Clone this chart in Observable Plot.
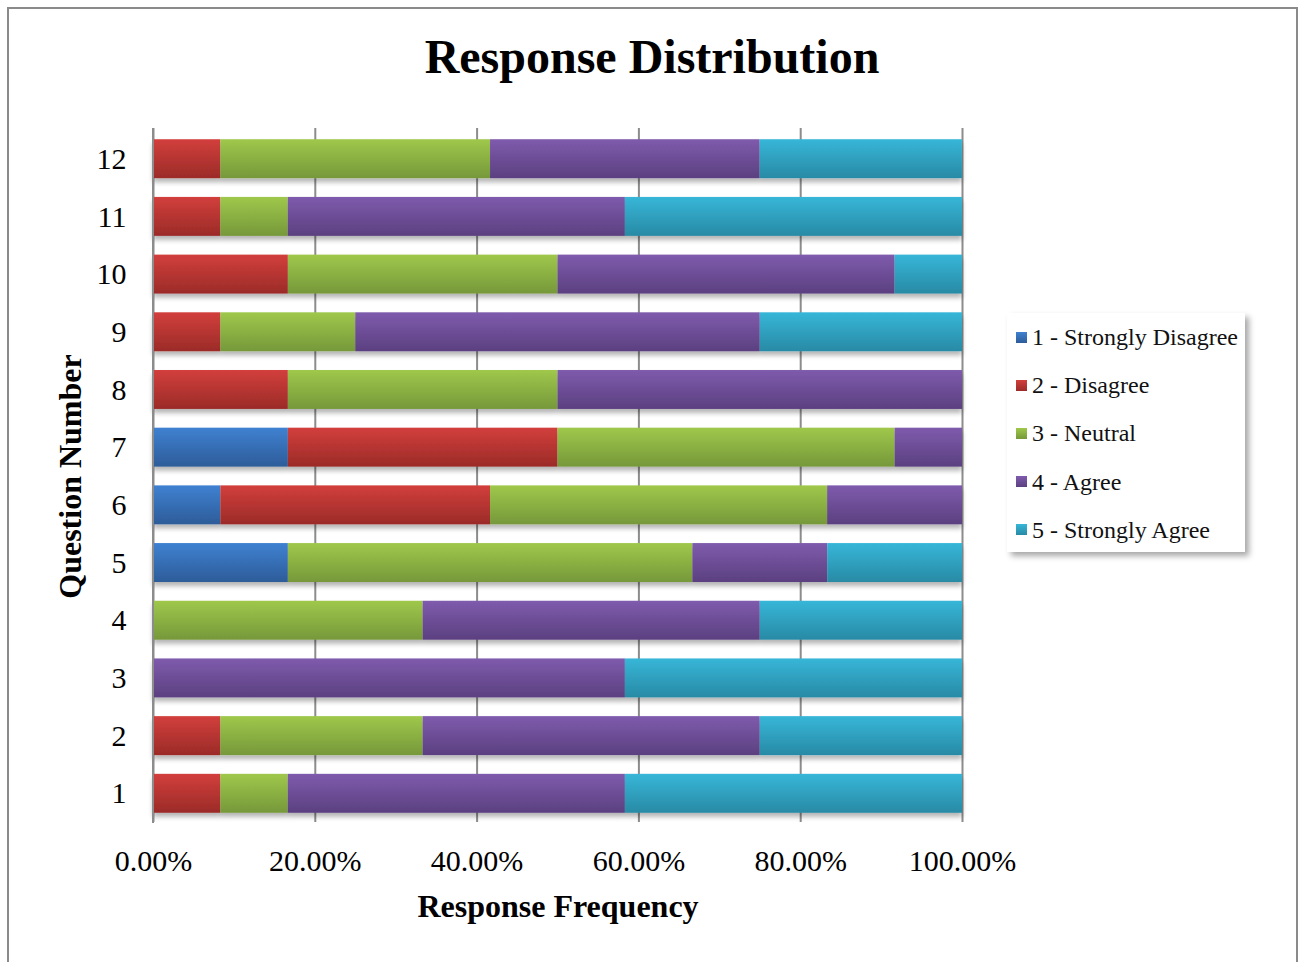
<!DOCTYPE html>
<html>
<head>
<meta charset="utf-8">
<script src="https://cdn.jsdelivr.net/npm/d3@7"></script>
<script src="https://cdn.jsdelivr.net/npm/@observablehq/plot@0.6"></script>
<style>
  html, body { margin: 0; padding: 0; background: #fff; overflow: hidden; }
  #wrap { position: relative; width: 1300px; height: 962px; font-family: "Liberation Serif", "Times New Roman", serif; }
  #frame { position: absolute; left: 7px; top: 7px; width: 1291px; height: 980px; border: 2px solid #8a8a8a; box-sizing: border-box; }
  #title { position: absolute; left: 0; width: 1304px; top: 29px; line-height: 56px; text-align: center; font-size: 48px; font-weight: bold; color: #000; }
  #chart { position: absolute; left: 0; top: 0; }
  #legend { position: absolute; left: 1007px; top: 313px; width: 238px; height: 239px; background: #fff;
            box-shadow: 4px 4px 6px rgba(0,0,0,0.35); box-sizing: border-box; padding-top: 0px; }
  .item { height: 48.2px; display: flex; align-items: center; font-size: 24px; line-height: 26px; color: #111; white-space: nowrap; }
  .sw { width: 11px; height: 11px; margin-left: 9px; margin-right: 5px; flex: none; }
</style>
</head>
<body>
<div id="wrap">
  <div id="frame"></div>
  <div id="chart"></div>
  <div id="title">Response Distribution</div>
  <div id="legend"></div>
</div>
<script>
// ---- data (percent of responses) ----
const questions = [1, 2, 3, 4, 5, 6, 7, 8, 9, 10, 11, 12];
const categories = ["1 - Strongly Disagree", "2 - Disagree", "3 - Neutral", "4 - Agree", "5 - Strongly Agree"];
const stronglyDisagree = [0, 0, 0, 0, 16.67, 8.33, 16.67, 0, 0, 0, 0, 0];
const disagree         = [8.33, 8.33, 0, 0, 0, 33.33, 33.33, 16.67, 8.33, 16.67, 8.33, 8.33];
const neutral          = [8.33, 25, 0, 33.33, 50, 41.67, 41.67, 33.33, 16.67, 33.33, 8.33, 33.33];
const agree            = [41.67, 41.67, 58.33, 41.67, 16.67, 16.67, 8.33, 50, 50, 41.67, 41.67, 33.33];
const stronglyAgree    = [41.67, 25, 41.67, 25, 16.67, 0, 0, 0, 25, 8.33, 41.67, 25];
const xTicks = [0, 20, 40, 60, 80, 100];

const seriesValues = [stronglyDisagree, disagree, neutral, agree, stronglyAgree];
const gradTop    = ["#3f81d1", "#d23f3c", "#9fc84b", "#7f5bad", "#37b6d8"];
const gradBottom = ["#2d5c99", "#9b2b28", "#76983a", "#5b4080", "#288aa5"];

const rows = [];
questions.forEach((q, i) => {
  categories.forEach((c, k) => rows.push({question: String(q), category: c, value: seriesValues[k][i]}));
});

const font = '"Liberation Serif", "Times New Roman", serif';

const chart = Plot.plot({
  width: 1300,
  height: 962,
  marginLeft: 153,
  marginRight: 338,
  marginTop: 130,
  marginBottom: 140,
  style: {fontFamily: font, background: "transparent", color: "#000", overflow: "visible"},
  x: {domain: [0, 100]},
  y: {domain: questions.map(String).reverse(), paddingInner: 0.325, paddingOuter: 0.16, round: false},
  color: {domain: categories, range: categories.map((c, k) => `url(#grad${k})`)},
  marks: [
    Plot.ruleX(xTicks, {stroke: "#8c8c8c", strokeWidth: 2, insetTop: -2}),
    Plot.barX(rows, {y: "question", x: "value", fill: "category"}),
    Plot.ruleY([0], {frameAnchor: "bottom", stroke: "#8c8c8c", strokeWidth: 2}),
    Plot.axisX(xTicks, {tickSize: 0, tickPadding: 27, fontSize: 30, tickFormat: d => d.toFixed(2) + "%", label: null}),
    Plot.axisY({tickSize: 0, tickPadding: 27, fontSize: 30, label: null}),
    Plot.text(["Question Number"], {frameAnchor: "left", dx: -83, rotate: -90, fontSize: 32, fontWeight: "bold", textAnchor: "middle", lineAnchor: "middle"}),
    Plot.text(["Response Frequency"], {frameAnchor: "bottom", dy: 84, fontSize: 32, fontWeight: "bold", textAnchor: "middle", lineAnchor: "middle"})
  ]
});

// gradients and shadow definitions
const ns = "http://www.w3.org/2000/svg";
const defs = document.createElementNS(ns, "defs");
let defsHtml = "";
categories.forEach((c, k) => {
  defsHtml += `<linearGradient id="grad${k}" x1="0" y1="0" x2="0" y2="1">
    <stop offset="0" stop-color="${gradTop[k]}"/><stop offset="1" stop-color="${gradBottom[k]}"/></linearGradient>`;
});
defsHtml += `<filter id="shadow" x="-5%" y="-5%" width="110%" height="115%">
  <feGaussianBlur in="SourceAlpha" stdDeviation="2.5"/><feOffset dx="0" dy="4" result="o"/>
  <feComponentTransfer><feFuncA type="linear" slope="0.3"/></feComponentTransfer>
  <feMerge><feMergeNode/><feMergeNode in="SourceGraphic"/></feMerge></filter>`;
defs.innerHTML = defsHtml;
chart.insertBefore(defs, chart.firstChild);
chart.querySelectorAll('g[aria-label="bar"]').forEach(g => g.setAttribute("filter", "url(#shadow)"));
// left axis line
const yl = document.createElementNS(ns, "line");
yl.setAttribute("x1", 153); yl.setAttribute("x2", 153); yl.setAttribute("y1", 128); yl.setAttribute("y2", 823);
yl.setAttribute("stroke", "#8c8c8c"); yl.setAttribute("stroke-width", 2);
chart.appendChild(yl);
document.getElementById("chart").appendChild(chart);

// legend
const legend = document.getElementById("legend");
categories.forEach((c, k) => {
  const it = document.createElement("div");
  it.className = "item";
  it.innerHTML = `<div class="sw" style="background:linear-gradient(${gradTop[k]}, ${gradBottom[k]})"></div><span>${c}</span>`;
  legend.appendChild(it);
});
</script>
</body>
</html>
